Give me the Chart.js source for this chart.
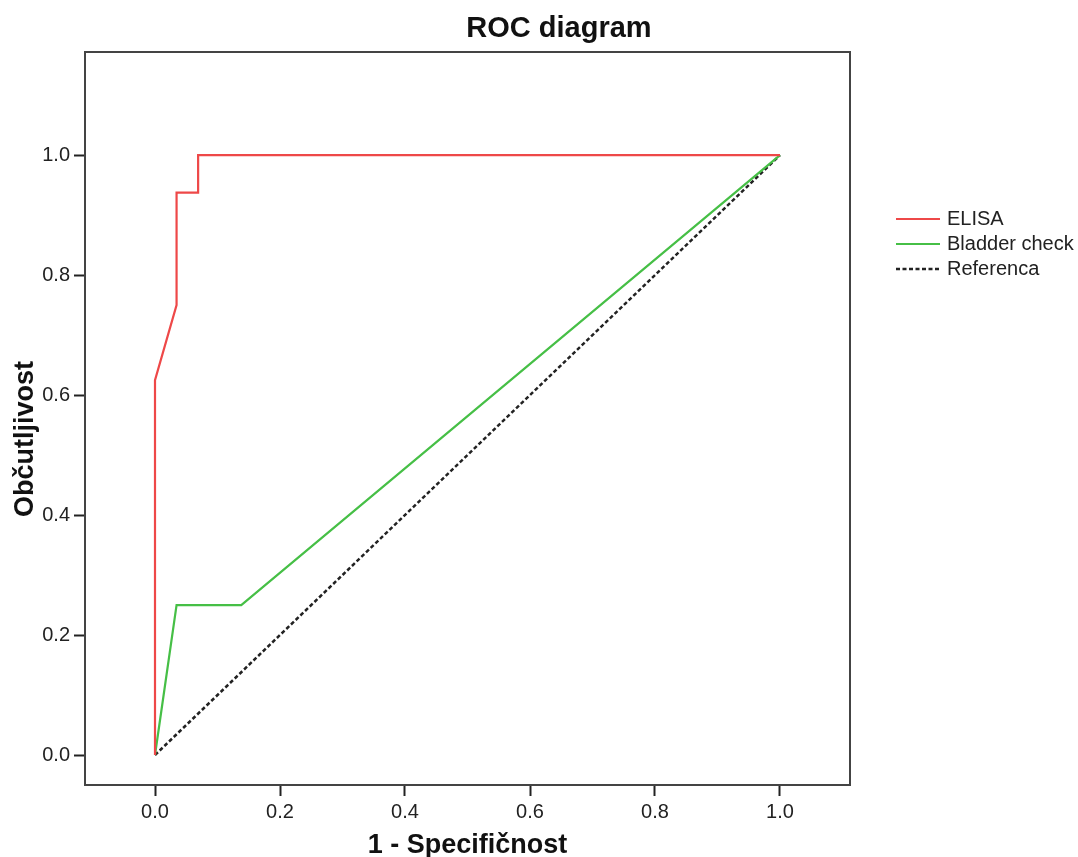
<!DOCTYPE html>
<html>
<head>
<meta charset="utf-8">
<title>ROC diagram</title>
<script src="https://cdn.jsdelivr.net/npm/chart.js@4"></script>
<style>
  html, body { margin: 0; padding: 0; background: #fff; }
  #wrap { width: 1078px; height: 857px; }
</style>
</head>
<body>
<div id="wrap"><canvas id="rocChart"></canvas></div>
<script>
// ROC krivulje (1 - specificnost, obcutljivost)
const elisaX = [0, 0, 0.0345, 0.0345, 0.069, 0.069, 1];
const elisaY = [0, 0.625, 0.75, 0.9375, 0.9375, 1, 1];
const bladderX = [0, 0.0345, 0.138, 1];
const bladderY = [0, 0.25, 0.25, 1];
const refX = [0, 1];
const refY = [0, 1];

const xTicks = [0, 0.2, 0.4, 0.6, 0.8, 1.0];
const yTicks = [0, 0.2, 0.4, 0.6, 0.8, 1.0];

const FONT = '"Liberation Sans", Arial, sans-serif';
const INK = '#222';

function toPoints(xs, ys) {
    return xs.map((x, i) => ({ x: x, y: ys[i] }));
}

// naslov, oznake osi, okvir in legenda
const decorPlugin = {
    id: 'decor',
    afterDraw(chart) {
        const ctx = chart.ctx;
        const a = chart.chartArea;
        ctx.save();

        ctx.strokeStyle = '#444';
        ctx.lineWidth = 2;
        ctx.strokeRect(a.left, a.top, a.right - a.left, a.bottom - a.top);

        ctx.fillStyle = '#111';
        ctx.textAlign = 'center';
        ctx.textBaseline = 'alphabetic';
        ctx.font = 'bold 29px ' + FONT;
        ctx.fillText('ROC diagram', 559, 37);

        ctx.font = 'bold 27px ' + FONT;
        ctx.fillText('1 - Specifičnost', (a.left + a.right) / 2, 853);

        ctx.save();
        ctx.translate(33, 439);
        ctx.rotate(-Math.PI / 2);
        ctx.fillText('Občutljivost', 0, 0);
        ctx.restore();

        // legenda
        ctx.font = '20px ' + FONT;
        ctx.textAlign = 'left';
        ctx.textBaseline = 'middle';
        chart.data.datasets.forEach((ds, i) => {
            const y = 219 + i * 25;
            ctx.strokeStyle = ds.borderColor;
            ctx.lineWidth = ds.borderWidth;
            ctx.setLineDash(ds.borderDash || []);
            ctx.beginPath();
            ctx.moveTo(896, y);
            ctx.lineTo(940, y);
            ctx.stroke();
            ctx.setLineDash([]);
            ctx.fillStyle = '#222';
            ctx.fillText(ds.label, 947, y);
        });

        ctx.restore();
    }
};

const axisCommon = {
    type: 'linear',
    border: { display: false },
    grid: {
        drawOnChartArea: false,
        drawTicks: true,
        tickLength: 11,
        tickWidth: 2,
        tickColor: INK
    },
    ticks: {
        color: INK,
        font: { family: FONT, size: 20 },
        padding: 4,
        callback: v => Number(v).toFixed(1)
    }
};

new Chart(document.getElementById('rocChart'), {
    type: 'scatter',
    data: {
        datasets: [
            {
                label: 'ELISA',
                data: toPoints(elisaX, elisaY),
                borderColor: '#ee4848',
                borderWidth: 2.2,
                showLine: true,
                pointRadius: 0
            },
            {
                label: 'Bladder check',
                data: toPoints(bladderX, bladderY),
                borderColor: '#46bf46',
                borderWidth: 2.2,
                showLine: true,
                pointRadius: 0
            },
            {
                label: 'Referenca',
                data: toPoints(refX, refY),
                borderColor: '#222',
                borderWidth: 2.5,
                borderDash: [4, 2.5],
                showLine: true,
                pointRadius: 0
            }
        ]
    },
    options: {
        responsive: true,
        maintainAspectRatio: false,
        animation: false,
        layout: { padding: { left: 0, top: 52, right: 228, bottom: 0 } },
        plugins: {
            legend: { display: false },
            title: { display: false },
            tooltip: { enabled: false }
        },
        scales: {
            x: {
                ...axisCommon,
                min: -0.112,
                max: 1.112,
                afterBuildTicks: axis => { axis.ticks = xTicks.map(v => ({ value: v })); },
                afterFit: axis => { axis.height = 72; }
            },
            y: {
                ...axisCommon,
                min: -0.05,
                max: 1.172,
                afterBuildTicks: axis => { axis.ticks = yTicks.map(v => ({ value: v })); },
                afterFit: axis => { axis.width = 85; }
            }
        }
    },
    plugins: [decorPlugin]
});
</script>
</body>
</html>
